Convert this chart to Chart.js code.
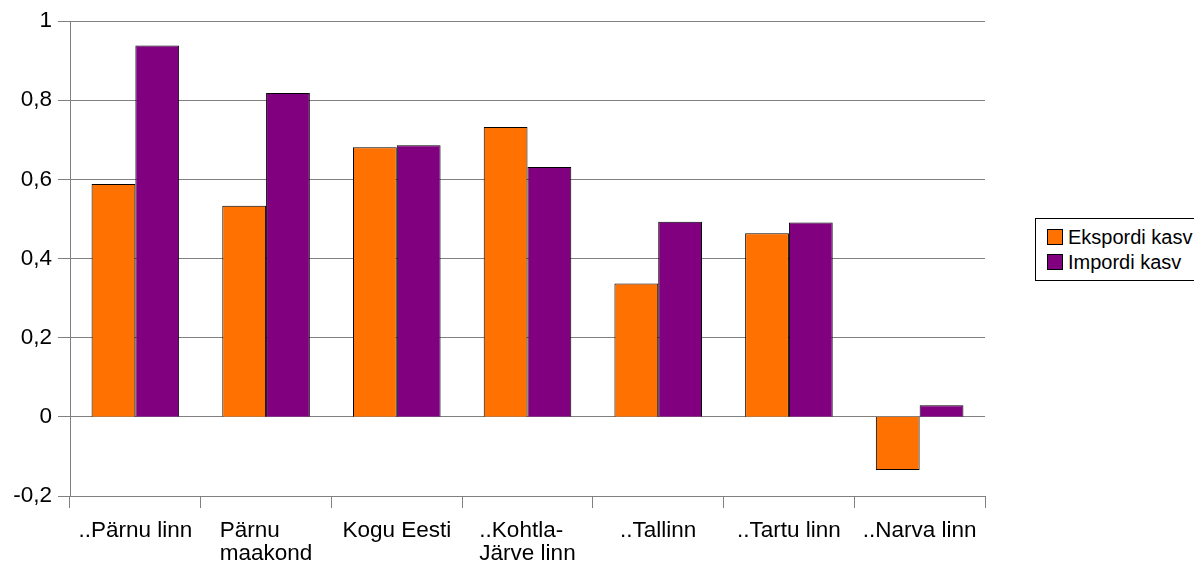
<!DOCTYPE html>
<html>
<head>
<meta charset="utf-8">
<script src="https://cdn.jsdelivr.net/npm/chart.js@4.4.0/dist/chart.umd.min.js"></script>
<style>
    html, body { margin: 0; padding: 0; background: #fff; overflow: hidden; }
    #wrap { position: relative; width: 1194px; height: 564px; }
    #legend {
        position: absolute; left: 1035px; top: 218px; width: 175px; height: 63px;
        border: 1px solid #000; box-sizing: border-box; background: #fff;
        font-family: "Liberation Sans", Arial, sans-serif; font-size: 20px; color: #000;
    }
    .item { position: absolute; left: 11px; display: flex; align-items: center; height: 22px; line-height: 22px; }
    .swatch { width: 16px; height: 16px; border: 1px solid #000; margin-right: 5px; box-sizing: border-box; }
</style>
</head>
<body>
<div id="wrap">
    <canvas id="chart" width="1194" height="564"></canvas>
    <div id="legend"></div>
</div>
<script>
// Data
const categories = [
    '..Pärnu linn',
    ['Pärnu', 'maakond'],
    'Kogu Eesti',
    ['..Kohtla-', 'Järve linn'],
    '..Tallinn',
    '..Tartu linn',
    '..Narva linn'
];
const seriesNames = ['Ekspordi kasv', 'Impordi kasv'];
const exportGrowth = [0.588, 0.533, 0.681, 0.732, 0.337, 0.464, -0.134];
const importGrowth = [0.938, 0.818, 0.686, 0.631, 0.493, 0.491, 0.029];
const seriesColors = ['#ff7100', '#800080'];
const yTicks = { min: -0.2, max: 1, step: 0.2 };

const fontFamily = '"Liberation Sans", Arial, sans-serif';
const labelFont = '22.5px ' + fontFamily;

// Legend (html, right side)
function buildLegend() {
    const legend = document.getElementById('legend');
    seriesNames.forEach((name, i) => {
        const item = document.createElement('div');
        item.className = 'item';
        item.style.top = (i === 0 ? 7 : 32) + 'px';
        item.innerHTML = '<span class="swatch" style="background:' + seriesColors[i] + '"></span>' + name;
        legend.appendChild(item);
    });
}

// Category labels: lines left aligned inside a block centred on the tick
const categoryLabelPlugin = {
    id: 'categoryLabels',
    afterDraw(chart) {
        const c = chart.ctx;
        const xScale = chart.scales.x;
        const base = chart.chartArea.bottom;
        c.save();
        c.font = labelFont;
        c.fillStyle = '#000';
        c.textAlign = 'left';
        c.textBaseline = 'alphabetic';
        categories.forEach((label, i) => {
            const lines = Array.isArray(label) ? label : [label];
            const w = Math.max(...lines.map(l => c.measureText(l).width));
            const x = xScale.getPixelForTick(i) - w / 2;
            lines.forEach((line, j) => {
                c.fillText(line, x, base + 41 + j * 23);
            });
        });
        c.restore();
    }
};

function initChart() {
    const ctx = document.getElementById('chart');
    new Chart(ctx, {
        type: 'bar',
        data: {
            labels: categories,
            datasets: [
                {
                    label: seriesNames[0],
                    data: exportGrowth,
                    backgroundColor: seriesColors[0],
                    borderColor: '#000',
                    borderWidth: 1,
                    categoryPercentage: 0.67,
                    barPercentage: 1
                },
                {
                    label: seriesNames[1],
                    data: importGrowth,
                    backgroundColor: seriesColors[1],
                    borderColor: '#000',
                    borderWidth: 1,
                    categoryPercentage: 0.67,
                    barPercentage: 1
                }
            ]
        },
        options: {
            responsive: false,
            animation: false,
            layout: { padding: { top: 21, right: 209, left: 0, bottom: 0 } },
            plugins: {
                legend: { display: false },
                tooltip: { enabled: false }
            },
            scales: {
                x: {
                    afterFit: s => { s.height = 68; },
                    grid: {
                        offset: true,
                        drawOnChartArea: false,
                        drawTicks: true,
                        tickLength: 12,
                        color: '#808080'
                    },
                    border: { color: '#808080' },
                    ticks: {
                        color: 'rgba(0,0,0,0)',
                        maxRotation: 0,
                        autoSkip: false,
                        font: { family: fontFamily, size: 20 }
                    }
                },
                y: {
                    min: yTicks.min,
                    max: yTicks.max,
                    afterFit: s => { s.width = 70; },
                    grid: {
                        color: '#808080',
                        drawTicks: true,
                        tickLength: 12
                    },
                    border: { color: '#808080' },
                    ticks: {
                        stepSize: yTicks.step,
                        color: '#000',
                        padding: 6,
                        font: { family: fontFamily, size: 22.5 },
                        callback: v => {
                            const r = Math.round(v * 10) / 10;
                            return String(r).replace('.', ',');
                        }
                    }
                }
            }
        },
        plugins: [categoryLabelPlugin]
    });
}

buildLegend();
initChart();
</script>
</body>
</html>
